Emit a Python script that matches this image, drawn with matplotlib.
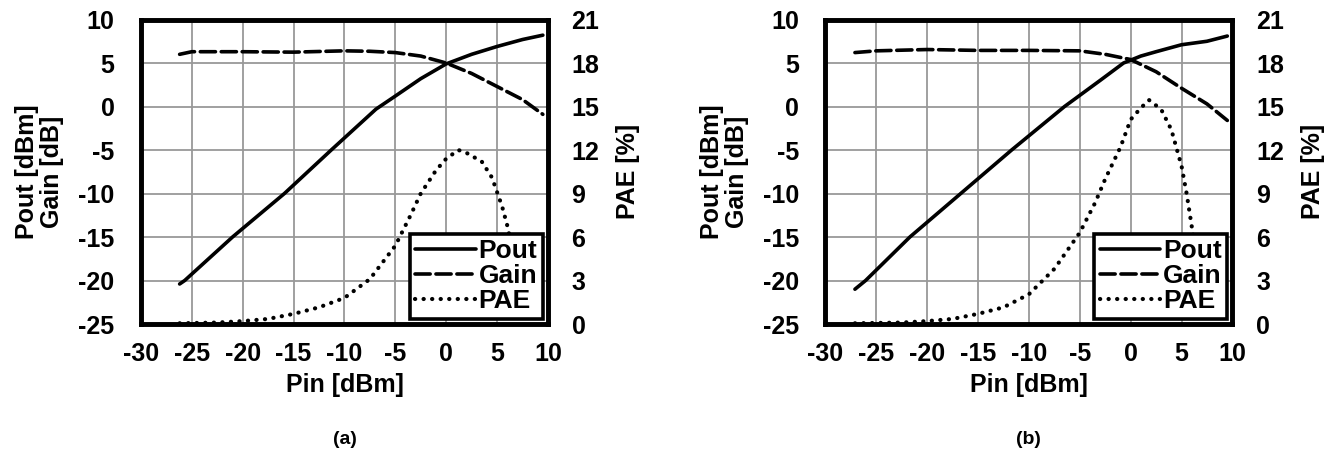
import matplotlib
matplotlib.use("Agg")
import matplotlib.pyplot as plt

plt.rcParams["font.family"] = ["Liberation Sans", "DejaVu Sans"]
plt.rcParams["font.weight"] = "bold"
plt.rcParams["axes.unicode_minus"] = False

# ---- panel (a) ----
pin_pout_a = [-26.2, -25.7, -21.0, -15.9, -11.3, -6.9, -5.0, -2.5, 0.0, 2.5, 5.0, 7.5, 9.5]
pout_a = [-20.4, -20.0, -15.0, -10.0, -5.0, -0.3, 1.2, 3.2, 4.9, 6.0, 6.9, 7.7, 8.2]
pin_gain_a = [-26.2, -25, -22.5, -20, -15, -10, -7.5, -5, -2.5, 0, 2.5, 5, 7.5, 9.5]
gain_a = [6.0, 6.3, 6.3, 6.3, 6.25, 6.4, 6.35, 6.2, 5.8, 5.0, 3.8, 2.3, 0.8, -0.9]
pin_pae_a = [-26.2, -22.5, -20, -17.5, -15, -12.5, -10, -7.5, -5, -3.5, -2.5, -1,
             0, 1.2, 2, 3.5, 4.5, 5, 5.5, 6, 7, 7.9]
pae_a = [0.05, 0.1, 0.2, 0.35, 0.7, 1.15, 1.8, 3.1, 5.4, 7.5, 9.0, 10.6,
         11.4, 12.0, 11.8, 11.2, 10.1, 9.1, 8.1, 6.8, 3.5, 0.5]

# ---- panel (b) ----
pin_pout_b = [-27.1, -26.05, -21.7, -16.7, -11.7, -6.5, -3.0, -0.7, 1.0, 2.5, 5.0, 7.5, 9.5]
pout_b = [-21.0, -20.0, -15.0, -10.0, -5.0, 0.0, 3.0, 5.0, 5.8, 6.3, 7.1, 7.5, 8.1]
pin_gain_b = [-27.1, -25, -20, -15, -10, -5, -2.5, 0, 2.5, 5, 7.5, 9.5]
gain_b = [6.2, 6.4, 6.55, 6.45, 6.45, 6.4, 6.0, 5.4, 4.0, 2.1, 0.3, -1.6]
pin_pae_b = [-27.1, -22.5, -20, -17.5, -15, -12.5, -10, -7.5, -5, -3.5, -2.5, -1,
             0, 1, 1.8, 3, 4, 5, 5.5, 6, 7, 7.5]
pae_b = [0.05, 0.1, 0.2, 0.35, 0.7, 1.15, 2.05, 3.8, 6.3, 8.35, 10.0, 12.2,
         14.1, 14.9, 15.45, 14.8, 13.4, 10.9, 9.0, 6.75, 2.5, 0.5]

x_ticks = list(range(-30, 11, 5))
y_ticks = list(range(-25, 11, 5))
pae_ticks = list(range(0, 22, 3))

FS = 18
LW = 2.6


def draw_panel(fig, rect, pin_pout, pout, pin_gain, gain, pin_pae, pae, tag):
    ax = fig.add_axes(rect)
    ax2 = ax.twinx()
    ax.plot(pin_pout, pout, color="black", lw=LW, solid_capstyle="round", label="Pout")
    ax.plot(pin_gain, gain, color="black", lw=LW, linestyle=(0, (4.2, 1.6)),
            dash_capstyle="round", label="Gain")
    ax2.plot(pin_pae, pae, color="black", lw=3.0, linestyle=(0, (0.05, 2.0)),
             dash_capstyle="round", label="PAE")

    ax.set_xlim(-30, 10)
    ax.set_ylim(-25, 10)
    ax2.set_ylim(0, 21)
    ax.set_xticks(x_ticks)
    ax.set_yticks(y_ticks)
    ax2.set_yticks(pae_ticks)
    ax.grid(True, color="#999999", lw=1.3)
    ax.set_axisbelow(True)
    for a in (ax, ax2):
        a.tick_params(length=0, labelsize=FS)
        for s in a.spines.values():
            s.set_linewidth(3.3)
    ax.tick_params(axis="y", pad=19)
    ax.tick_params(axis="x", pad=13)
    ax2.tick_params(axis="y", pad=17)

    ax.set_xlabel("Pin [dBm]", fontsize=FS, fontweight="bold", labelpad=5)
    ax.set_ylabel("Pout [dBm]\nGain [dB]", fontsize=FS, fontweight="bold",
                  labelpad=10, linespacing=1.05)
    ax2.set_ylabel("PAE [%]", fontsize=FS, fontweight="bold", labelpad=12)

    handles = ax.get_lines() + ax2.get_lines()
    leg = ax2.legend(handles, [h.get_label() for h in handles], loc="lower right",
                     fontsize=FS + 1, frameon=True, fancybox=False, framealpha=1,
                     edgecolor="black", handlelength=2.3, handletextpad=0.1,
                     labelspacing=0.05, borderpad=0.2, borderaxespad=0.2)
    leg.get_frame().set_linewidth(2.6)
    for t in leg.get_texts():
        t.set_fontweight("bold")

    cx = rect[0] + rect[2] / 2
    fig.text(cx, 1 - 440 / 455, tag, ha="center", va="center", fontsize=14,
             fontweight="bold")


fig = plt.figure(figsize=(13.4, 4.55), dpi=100)
draw_panel(fig, [0.1052, 0.2879, 0.3037, 0.6692],
           pin_pout_a, pout_a, pin_gain_a, gain_a, pin_pae_a, pae_a, "(a)")
draw_panel(fig, [0.616, 0.2879, 0.3037, 0.6692],
           pin_pout_b, pout_b, pin_gain_b, gain_b, pin_pae_b, pae_b, "(b)")
fig.savefig("out.png", dpi=100)
